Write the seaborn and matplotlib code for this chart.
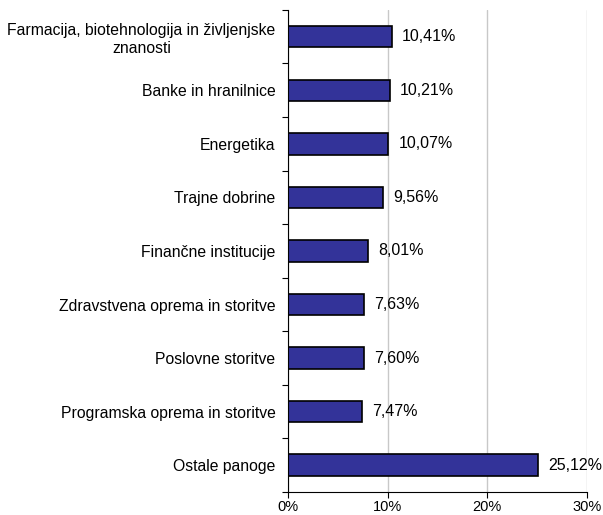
import matplotlib.pyplot as plt
import seaborn as sns
import numpy as np
import pandas as pd

# Data
categories = [
    "Farmacija, biotehnologija in življenjske\nznanosti",
    "Banke in hranilnice",
    "Energetika",
    "Trajne dobrine",
    "Finančne institucije",
    "Zdravstvena oprema in storitve",
    "Poslovne storitve",
    "Programska oprema in storitve",
    "Ostale panoge",
]
shares = [10.41, 10.21, 10.07, 9.56, 8.01, 7.63, 7.60, 7.47, 25.12]
x_ticks = [0, 10, 20, 30]

df = pd.DataFrame({"panoga": categories, "delez": shares})

sns.set_style("white")
plt.rcParams["font.family"] = ["Liberation Sans", "DejaVu Sans"]
plt.rcParams["font.size"] = 11.3

fig = plt.figure(figsize=(6.03, 5.15), dpi=100)
ax = fig.add_axes([0.4776, 0.0447, 0.4959, 0.936])

sns.barplot(data=df, x="delez", y="panoga", orient="h", color="#333399",
            edgecolor="black", linewidth=1.2, width=0.4, saturation=1, ax=ax)

# Value labels
for i, v in enumerate(df["delez"]):
    ax.text(v + 1.0, i, f"{v:.2f}%".replace(".", ","), va="center", ha="left",
            fontsize=11.5, color="black")

ax.set_xlim(0, 30)
ax.set_ylim(len(categories) - 0.5, -0.5)
ax.set_xticks(x_ticks)
ax.set_xticklabels([f"{t}%" for t in x_ticks], fontsize=10.5, color="black")
ax.xaxis.grid(True, color="#c8c8c8", linewidth=1)
ax.set_axisbelow(True)

# Category ticks between bars, Excel style
ax.set_yticks(range(len(categories)))
ax.set_yticks(np.arange(-0.5, len(categories), 1), minor=True)
ax.tick_params(axis="y", which="major", length=0, pad=9, labelcolor="black")
ax.tick_params(axis="y", which="minor", left=True, length=4, width=0.8, color="black")
ax.tick_params(axis="x", which="major", bottom=True, length=4, width=0.8, color="black", pad=2)
for lbl in ax.get_yticklabels():
    lbl.set_multialignment("center")

ax.set_xlabel("")
ax.set_ylabel("")
for s in ["top", "right"]:
    ax.spines[s].set_visible(False)
for s in ["left", "bottom"]:
    ax.spines[s].set_color("black")
    ax.spines[s].set_linewidth(0.8)

fig.savefig("out.png", dpi=100)
